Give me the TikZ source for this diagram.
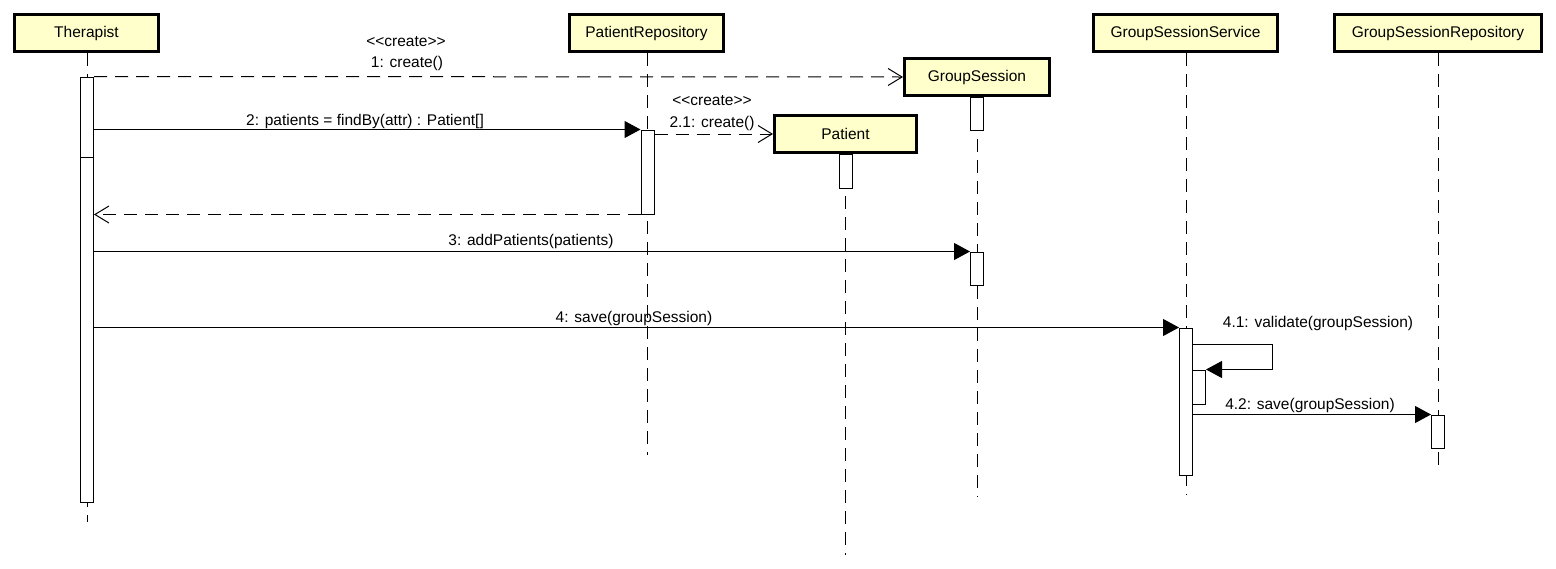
\documentclass[tikz,border=0pt]{standalone}
\usepackage{fontspec}
\setmainfont{Liberation Sans}[Ligatures=TeXOff]
\usetikzlibrary{arrows.meta}

\definecolor{objfill}{HTML}{FFFFCC}
\newcommand{\seqfont}{\fontsize{15.5}{18}\selectfont}

\tikzset{
  object/.style={draw, line width=3pt, fill=objfill, minimum height=37pt,
    inner sep=0pt, font=\seqfont},
  activation/.style={draw, line width=1pt, fill=white, minimum width=13pt,
    inner sep=0pt},
  lifeline/.style={line width=1pt, dash pattern=on 13pt off 8pt},
  call/.style={line width=1pt, -{Triangle[length=16pt,width=17pt]}},
  reply/.style={line width=1pt, dash pattern=on 13pt off 8pt,
    -{Straight Barb[length=14pt,width=17pt]}},
  msg/.style={inner sep=0pt, font=\seqfont},
}

\begin{document}
\begin{tikzpicture}[x=1pt, y=-1pt]
  \useasboundingbox (0,0) rectangle (1556,568);

  % Objects
  \node[object, minimum width=144pt] (therapist) at (86.5,33) {Therapist};
  \node[object, minimum width=154pt] (patrepo)   at (646.5,33) {PatientRepository};
  \node[object, minimum width=145pt] (gsession)  at (977,77) {GroupSession};
  \node[object, minimum width=142pt] (patient)   at (845.5,134) {Patient};
  \node[object, minimum width=184pt] (gsservice) at (1185.5,33) {GroupSessionService};
  \node[object, minimum width=207pt] (gsrepo)    at (1438,33) {GroupSessionRepository};

  % Lifelines
  \coordinate (endT)   at (87,522);
  \coordinate (endPR)  at (647.5,455);
  \coordinate (endGS)  at (977,497);
  \coordinate (endPat) at (845.5,555);
  \coordinate (endGSS) at (1186,495);
  \coordinate (endGSR) at (1438,468);

  \draw[lifeline] (therapist.south -| endT) -- (endT);
  \draw[lifeline] (patrepo.south -| endPR) -- (endPR);
  \draw[lifeline] (gsession.south) -- (endGS);
  \draw[lifeline] (patient.south) -- (endPat);
  \draw[lifeline] (gsservice.south -| endGSS) -- (endGSS);
  \draw[lifeline] (gsrepo.south) -- (endGSR);

  % Activations
  \node[activation, minimum height=80pt]  (actTa)   at (87,117) {};
  \node[activation, minimum height=345pt] (actTb)   at (87,329.5) {};
  \node[activation, minimum height=84pt]  (actPR)   at (647.5,172) {};
  \node[activation, minimum height=33pt]  (actGSa)  at (977,113.5) {};
  \node[activation, minimum height=33pt]  (actGSb)  at (977,268.5) {};
  \node[activation, minimum height=34pt]  (actPat)  at (845.5,171) {};
  \node[activation, minimum height=147pt] (actGSS)  at (1186,401.5) {};
  \node[activation, minimum height=34pt]  (actGSSn) at (1199,387) {};
  \node[activation, minimum height=33pt]  (actGSR)  at (1438,431.5) {};

  % Messages
  \draw[reply] (actTa.north east) -- (gsession.west);
  \draw[call]  (actTa.east |- actPR.north) -- (actPR.north west);
  \draw[reply] (actPR.east |- patient.west) -- (patient.west);
  \draw[reply] (actPR.south west) -- (actTb.east |- actPR.south west);
  \draw[call]  (actTb.east |- actGSb.north) -- (actGSb.north west);
  \draw[call]  (actTb.east |- actGSS.north) -- (actGSS.north west);
  \coordinate (selfA) at (1192.5,344);
  \draw[call]  (selfA) -- ++(80,0) |- (actGSSn.north east);
  \draw[call]  (actGSS.east |- actGSR.north) -- (actGSR.north west);

  % Labels
  \node[msg] (l1a) at (406,42)   {{<}{<}create{>}{>}};
  \node[msg] (l1b) at (407,63)   {1: create()};
  \node[msg] (l2)  at (365,121)  {2: patients = findBy(attr) : Patient[]};
  \node[msg] (l21a) at (712,101) {{<}{<}create{>}{>}};
  \node[msg] (l21b) at (712,123) {2.1: create()};
  \node[msg] (l3)  at (531,241)  {3: addPatients(patients)};
  \node[msg] (l4)  at (634,318)  {4: save(groupSession)};
  \node[msg] (l41) at (1318,323) {4.1: validate(groupSession)};
  \node[msg] (l42) at (1310,405) {4.2: save(groupSession)};
\end{tikzpicture}
\end{document}
